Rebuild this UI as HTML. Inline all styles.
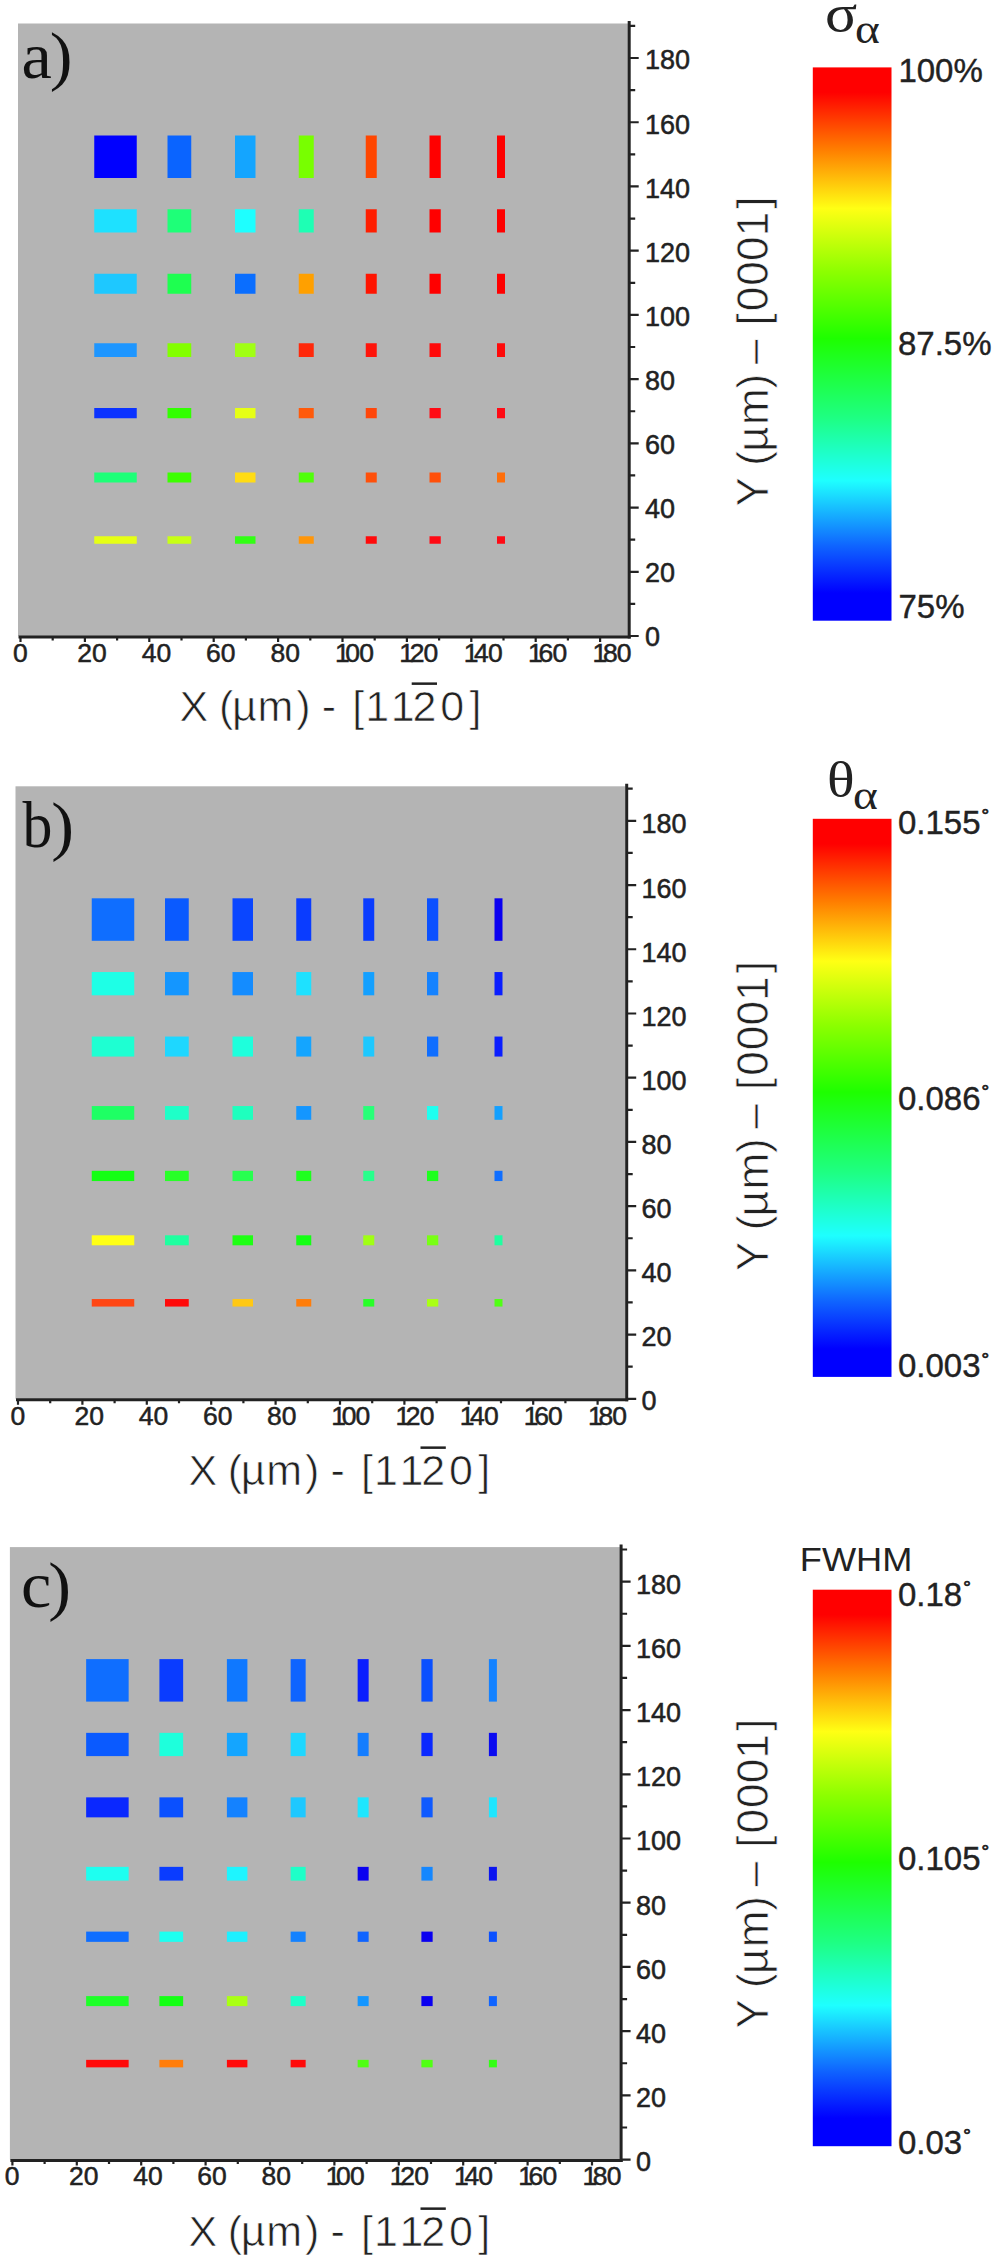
<!DOCTYPE html>
<html lang="en"><head><meta charset="utf-8"><title>Figure</title>
<style>html,body{margin:0;padding:0;background:#fff}svg{display:block}</style>
</head><body>
<svg width="1000" height="2266" viewBox="0 0 1000 2266">
<defs><linearGradient id="jet" x1="0" y1="0" x2="0" y2="1">
<stop offset="0" stop-color="#ff0000"/>
<stop offset="0.045" stop-color="#ff0000"/>
<stop offset="0.148" stop-color="#ff7d00"/>
<stop offset="0.255" stop-color="#ffff14"/>
<stop offset="0.37" stop-color="#8cff00"/>
<stop offset="0.49" stop-color="#1eff00"/>
<stop offset="0.633" stop-color="#1eff82"/>
<stop offset="0.747" stop-color="#1effff"/>
<stop offset="0.865" stop-color="#0f64ff"/>
<stop offset="0.95" stop-color="#0000ff"/>
<stop offset="1" stop-color="#0000ff"/>
</linearGradient></defs>
<rect width="1000" height="2266" fill="#fff"/>
<g transform="translate(0,0)">
<rect x="18" y="23.5" width="610" height="612.5" fill="#b4b4b4"/>
<rect x="94.25" y="135.5" width="42.5" height="42.5" fill="#0000ff"/>
<rect x="167.5" y="135.5" width="23.75" height="42.5" fill="#0a64ff"/>
<rect x="235" y="135.5" width="20.5" height="42.5" fill="#14a5ff"/>
<rect x="298.75" y="135.5" width="15" height="42.5" fill="#78ff00"/>
<rect x="365.75" y="135.5" width="11" height="42.5" fill="#ff4600"/>
<rect x="429.5" y="135.5" width="11.25" height="42.5" fill="#ff0000"/>
<rect x="497" y="135.5" width="8" height="42.5" fill="#ff0000"/>
<rect x="94.25" y="209.25" width="42.5" height="23.25" fill="#1ee1ff"/>
<rect x="167.5" y="209.25" width="23.75" height="23.25" fill="#1eff78"/>
<rect x="235" y="209.25" width="20.5" height="23.25" fill="#1effff"/>
<rect x="298.75" y="209.25" width="15" height="23.25" fill="#1effb4"/>
<rect x="365.75" y="209.25" width="11" height="23.25" fill="#ff1e00"/>
<rect x="429.5" y="209.25" width="11.25" height="23.25" fill="#ff0000"/>
<rect x="497" y="209.25" width="8" height="23.25" fill="#ff0000"/>
<rect x="94.25" y="273.75" width="42.5" height="20" fill="#1ec8ff"/>
<rect x="167.5" y="273.75" width="23.75" height="20" fill="#1eff50"/>
<rect x="235" y="273.75" width="20.5" height="20" fill="#0a6eff"/>
<rect x="298.75" y="273.75" width="15" height="20" fill="#ffa000"/>
<rect x="365.75" y="273.75" width="11" height="20" fill="#ff1400"/>
<rect x="429.5" y="273.75" width="11.25" height="20" fill="#ff0000"/>
<rect x="497" y="273.75" width="8" height="20" fill="#ff0000"/>
<rect x="94.25" y="343.25" width="42.5" height="13.75" fill="#1e96ff"/>
<rect x="167.5" y="343.25" width="23.75" height="13.75" fill="#82ff00"/>
<rect x="235" y="343.25" width="20.5" height="13.75" fill="#a0ff14"/>
<rect x="298.75" y="343.25" width="15" height="13.75" fill="#ff280a"/>
<rect x="365.75" y="343.25" width="11" height="13.75" fill="#ff140a"/>
<rect x="429.5" y="343.25" width="11.25" height="13.75" fill="#ff0a0a"/>
<rect x="497" y="343.25" width="8" height="13.75" fill="#ff0a0a"/>
<rect x="94.25" y="408" width="42.5" height="10.25" fill="#0a32ff"/>
<rect x="167.5" y="408" width="23.75" height="10.25" fill="#32ff00"/>
<rect x="235" y="408" width="20.5" height="10.25" fill="#e6ff14"/>
<rect x="298.75" y="408" width="15" height="10.25" fill="#ff5a0a"/>
<rect x="365.75" y="408" width="11" height="10.25" fill="#ff460a"/>
<rect x="429.5" y="408" width="11.25" height="10.25" fill="#ff0a14"/>
<rect x="497" y="408" width="8" height="10.25" fill="#ff0a14"/>
<rect x="94.25" y="472.5" width="42.5" height="10" fill="#1eff78"/>
<rect x="167.5" y="472.5" width="23.75" height="10" fill="#3cff00"/>
<rect x="235" y="472.5" width="20.5" height="10" fill="#ffdc14"/>
<rect x="298.75" y="472.5" width="15" height="10" fill="#50ff0a"/>
<rect x="365.75" y="472.5" width="11" height="10" fill="#ff500a"/>
<rect x="429.5" y="472.5" width="11.25" height="10" fill="#ff500a"/>
<rect x="497" y="472.5" width="8" height="10" fill="#ff6e0a"/>
<rect x="94.25" y="536.25" width="42.5" height="7.5" fill="#e6ff14"/>
<rect x="167.5" y="536.25" width="23.75" height="7.5" fill="#c8ff14"/>
<rect x="235" y="536.25" width="20.5" height="7.5" fill="#32ff14"/>
<rect x="298.75" y="536.25" width="15" height="7.5" fill="#ff960a"/>
<rect x="365.75" y="536.25" width="11" height="7.5" fill="#ff0a0a"/>
<rect x="429.5" y="536.25" width="11.25" height="7.5" fill="#ff0a14"/>
<rect x="497" y="536.25" width="8" height="7.5" fill="#ff0a14"/>
<g stroke="#222" stroke-width="3" fill="none">
<path d="M18.5 636.9H630.7"/>
<path d="M629.2 21V638.4"/>
</g>
<g stroke="#222" stroke-width="2.2" fill="none">
<path d="M20.5 636.9v5.0M52.7 636.9v3.5M84.9 636.9v5.0M117.1 636.9v3.5M149.3 636.9v5.0M181.5 636.9v3.5M213.7 636.9v5.0M245.9 636.9v3.5M278.1 636.9v5.0M310.3 636.9v3.5M342.5 636.9v5.0M374.7 636.9v3.5M406.9 636.9v5.0M439.1 636.9v3.5M471.3 636.9v5.0M503.5 636.9v3.5M535.7 636.9v5.0M567.9 636.9v3.5M600.1 636.9v5.0M629.2 636h9.5M629.2 603.89h6.0M629.2 571.78h9.5M629.2 539.67h6.0M629.2 507.56h9.5M629.2 475.45h6.0M629.2 443.34h9.5M629.2 411.23h6.0M629.2 379.12h9.5M629.2 347.01h6.0M629.2 314.9h9.5M629.2 282.79h6.0M629.2 250.68h9.5M629.2 218.57h6.0M629.2 186.46h9.5M629.2 154.35h6.0M629.2 122.24h9.5M629.2 90.13h6.0M629.2 58.02h9.5M629.2 25.91h6.0"/>
</g>
<g font-family='"Liberation Sans", Arial, sans-serif' font-size="26.5" fill="#222" stroke="#222" stroke-width="0.5">
<text x="12.9" y="661.8">0</text>
<text x="77.3" y="661.8">20</text>
<text x="141.7" y="661.8">40</text>
<text x="206.1" y="661.8">60</text>
<text x="270.5" y="661.8">80</text>
<text x="334.9 345.3 359.2" y="661.8">100</text>
<text x="399.3 409.7 423.6" y="661.8">120</text>
<text x="463.7 474.1 488" y="661.8">140</text>
<text x="528.1 538.5 552.4" y="661.8">160</text>
<text x="592.5 602.9 616.8" y="661.8">180</text>
</g>
<g font-family='"Liberation Sans", Arial, sans-serif' font-size="27" fill="#222" stroke="#222" stroke-width="0.5">
<text x="645" y="646">0</text>
<text x="645" y="581.94">20</text>
<text x="645" y="517.88">40</text>
<text x="645" y="453.82">60</text>
<text x="645" y="389.76">80</text>
<text x="645" y="325.7">100</text>
<text x="645" y="261.64">120</text>
<text x="645" y="197.58">140</text>
<text x="645" y="133.52">160</text>
<text x="645" y="69.46">180</text>
</g>
<g font-family='"Liberation Serif", "Times New Roman", serif' font-size="65" fill="#111">
<text transform="translate(21.5,78) scale(1.05,1)">a</text>
<text transform="translate(49.7,77.5) scale(1.05,1)">)</text>
</g>
</g>
<g transform="translate(0,0)" font-family='"Liberation Sans", Arial, sans-serif' font-size="43" fill="#222" stroke="#fff" stroke-width="0.7">
<text y="721" x="179.6 207 219 232 257.5 296.3">X (µm)</text>
<text y="721" x="321.8">-</text>
<text y="721" x="352.3 365.2 390.7 412.4 440.2 469.5">[1120]</text>
<rect x="411.7" y="682.4" width="25.3" height="2.5" stroke="none"/>
</g>
<g transform="translate(768.4,504.8) rotate(-90)" font-family='"Liberation Sans", Arial, sans-serif' font-size="44" fill="#222" stroke="#fff" stroke-width="0.7">
<text y="0" x="-1.6">Y</text>
<text y="0" x="39 53 79.7 116.3">(µm)</text>
<text y="0" x="140.8">–</text>
<text y="0" x="179.3 193.6 219 243.8 268.6 296.1">[0001]</text>
</g>
<g transform="translate(-2.5,762.8)">
<rect x="18" y="23.5" width="610" height="612.5" fill="#b4b4b4"/>
<rect x="94.25" y="135.5" width="42.5" height="42.5" fill="#0f6eff"/>
<rect x="167.5" y="135.5" width="23.75" height="42.5" fill="#0a5aff"/>
<rect x="235" y="135.5" width="20.5" height="42.5" fill="#0a46ff"/>
<rect x="298.75" y="135.5" width="15" height="42.5" fill="#0a3cff"/>
<rect x="365.75" y="135.5" width="11" height="42.5" fill="#0a3cff"/>
<rect x="429.5" y="135.5" width="11.25" height="42.5" fill="#0a50ff"/>
<rect x="497" y="135.5" width="8" height="42.5" fill="#0a00f0"/>
<rect x="94.25" y="209.25" width="42.5" height="23.25" fill="#1effe6"/>
<rect x="167.5" y="209.25" width="23.75" height="23.25" fill="#1496ff"/>
<rect x="235" y="209.25" width="20.5" height="23.25" fill="#148cff"/>
<rect x="298.75" y="209.25" width="15" height="23.25" fill="#1ee1ff"/>
<rect x="365.75" y="209.25" width="11" height="23.25" fill="#14a0ff"/>
<rect x="429.5" y="209.25" width="11.25" height="23.25" fill="#1482ff"/>
<rect x="497" y="209.25" width="8" height="23.25" fill="#0a1eff"/>
<rect x="94.25" y="273.75" width="42.5" height="20" fill="#1effd2"/>
<rect x="167.5" y="273.75" width="23.75" height="20" fill="#1ed7ff"/>
<rect x="235" y="273.75" width="20.5" height="20" fill="#1effdc"/>
<rect x="298.75" y="273.75" width="15" height="20" fill="#14a5ff"/>
<rect x="365.75" y="273.75" width="11" height="20" fill="#1ec8ff"/>
<rect x="429.5" y="273.75" width="11.25" height="20" fill="#0f6eff"/>
<rect x="497" y="273.75" width="8" height="20" fill="#0a1eff"/>
<rect x="94.25" y="343.25" width="42.5" height="13.75" fill="#1eff64"/>
<rect x="167.5" y="343.25" width="23.75" height="13.75" fill="#1effc8"/>
<rect x="235" y="343.25" width="20.5" height="13.75" fill="#1effbe"/>
<rect x="298.75" y="343.25" width="15" height="13.75" fill="#1496ff"/>
<rect x="365.75" y="343.25" width="11" height="13.75" fill="#28ff78"/>
<rect x="429.5" y="343.25" width="11.25" height="13.75" fill="#1efff0"/>
<rect x="497" y="343.25" width="8" height="13.75" fill="#14a0ff"/>
<rect x="94.25" y="408" width="42.5" height="10.25" fill="#14ff14"/>
<rect x="167.5" y="408" width="23.75" height="10.25" fill="#28ff28"/>
<rect x="235" y="408" width="20.5" height="10.25" fill="#28ff50"/>
<rect x="298.75" y="408" width="15" height="10.25" fill="#1eff1e"/>
<rect x="365.75" y="408" width="11" height="10.25" fill="#28ff8c"/>
<rect x="429.5" y="408" width="11.25" height="10.25" fill="#1eff1e"/>
<rect x="497" y="408" width="8" height="10.25" fill="#0f6eff"/>
<rect x="94.25" y="472.5" width="42.5" height="10" fill="#ffff14"/>
<rect x="167.5" y="472.5" width="23.75" height="10" fill="#1effa0"/>
<rect x="235" y="472.5" width="20.5" height="10" fill="#1eff14"/>
<rect x="298.75" y="472.5" width="15" height="10" fill="#14ff14"/>
<rect x="365.75" y="472.5" width="11" height="10" fill="#a0ff14"/>
<rect x="429.5" y="472.5" width="11.25" height="10" fill="#78ff14"/>
<rect x="497" y="472.5" width="8" height="10" fill="#1effa0"/>
<rect x="94.25" y="536.25" width="42.5" height="7.5" fill="#ff4614"/>
<rect x="167.5" y="536.25" width="23.75" height="7.5" fill="#ff0a0a"/>
<rect x="235" y="536.25" width="20.5" height="7.5" fill="#ffc814"/>
<rect x="298.75" y="536.25" width="15" height="7.5" fill="#ff7d0a"/>
<rect x="365.75" y="536.25" width="11" height="7.5" fill="#28ff28"/>
<rect x="429.5" y="536.25" width="11.25" height="7.5" fill="#aaff14"/>
<rect x="497" y="536.25" width="8" height="7.5" fill="#50ff14"/>
<g stroke="#222" stroke-width="3" fill="none">
<path d="M18.5 636.9H630.7"/>
<path d="M629.2 21V638.4"/>
</g>
<g stroke="#222" stroke-width="2.2" fill="none">
<path d="M20.5 636.9v5.0M52.7 636.9v3.5M84.9 636.9v5.0M117.1 636.9v3.5M149.3 636.9v5.0M181.5 636.9v3.5M213.7 636.9v5.0M245.9 636.9v3.5M278.1 636.9v5.0M310.3 636.9v3.5M342.5 636.9v5.0M374.7 636.9v3.5M406.9 636.9v5.0M439.1 636.9v3.5M471.3 636.9v5.0M503.5 636.9v3.5M535.7 636.9v5.0M567.9 636.9v3.5M600.1 636.9v5.0M629.2 636h9.5M629.2 603.89h6.0M629.2 571.78h9.5M629.2 539.67h6.0M629.2 507.56h9.5M629.2 475.45h6.0M629.2 443.34h9.5M629.2 411.23h6.0M629.2 379.12h9.5M629.2 347.01h6.0M629.2 314.9h9.5M629.2 282.79h6.0M629.2 250.68h9.5M629.2 218.57h6.0M629.2 186.46h9.5M629.2 154.35h6.0M629.2 122.24h9.5M629.2 90.13h6.0M629.2 58.02h9.5M629.2 25.91h6.0"/>
</g>
<g font-family='"Liberation Sans", Arial, sans-serif' font-size="26.5" fill="#222" stroke="#222" stroke-width="0.5">
<text x="12.9" y="661.8">0</text>
<text x="77.08" y="661.8">20</text>
<text x="141.26" y="661.8">40</text>
<text x="205.43" y="661.8">60</text>
<text x="269.61" y="661.8">80</text>
<text x="333.79 344.19 358.09" y="661.8">100</text>
<text x="397.97 408.37 422.27" y="661.8">120</text>
<text x="462.14 472.54 486.44" y="661.8">140</text>
<text x="526.32 536.72 550.62" y="661.8">160</text>
<text x="590.5 600.9 614.8" y="661.8">180</text>
</g>
<g font-family='"Liberation Sans", Arial, sans-serif' font-size="27" fill="#222" stroke="#222" stroke-width="0.5">
<text x="644" y="647.2">0</text>
<text x="644" y="583.14">20</text>
<text x="644" y="519.08">40</text>
<text x="644" y="455.02">60</text>
<text x="644" y="390.96">80</text>
<text x="644" y="326.9">100</text>
<text x="644" y="262.84">120</text>
<text x="644" y="198.78">140</text>
<text x="644" y="134.72">160</text>
<text x="644" y="70.66">180</text>
</g>
<g font-family='"Liberation Serif", "Times New Roman", serif' font-size="65" fill="#111">
<text transform="translate(25.1,83.7) scale(0.92,1)">b</text>
<text transform="translate(53.7,84.7) scale(1.05,1)">)</text>
</g>
</g>
<g transform="translate(8.8,764)" font-family='"Liberation Sans", Arial, sans-serif' font-size="43" fill="#222" stroke="#fff" stroke-width="0.7">
<text y="721" x="179.6 207 219 232 257.5 296.3">X (µm)</text>
<text y="721" x="321.8">-</text>
<text y="721" x="352.3 365.2 390.7 412.4 440.2 469.5">[1120]</text>
<rect x="411.7" y="682.4" width="25.3" height="2.5" stroke="none"/>
</g>
<g transform="translate(768.4,1269.3) rotate(-90)" font-family='"Liberation Sans", Arial, sans-serif' font-size="44" fill="#222" stroke="#fff" stroke-width="0.7">
<text y="0" x="-1.6">Y</text>
<text y="0" x="39 53 79.7 116.3">(µm)</text>
<text y="0" x="140.8">–</text>
<text y="0" x="179.3 193.6 219 243.8 268.6 296.1">[0001]</text>
</g>
<g transform="translate(-8.1,1523.6)">
<rect x="18" y="23.5" width="610" height="612.5" fill="#b4b4b4"/>
<rect x="94.25" y="135.5" width="42.5" height="42.5" fill="#0f6eff"/>
<rect x="167.5" y="135.5" width="23.75" height="42.5" fill="#0a3cff"/>
<rect x="235" y="135.5" width="20.5" height="42.5" fill="#0f78ff"/>
<rect x="298.75" y="135.5" width="15" height="42.5" fill="#0f64ff"/>
<rect x="365.75" y="135.5" width="11" height="42.5" fill="#0a1eff"/>
<rect x="429.5" y="135.5" width="11.25" height="42.5" fill="#0a50ff"/>
<rect x="497" y="135.5" width="8" height="42.5" fill="#1482ff"/>
<rect x="94.25" y="209.25" width="42.5" height="23.25" fill="#0a5aff"/>
<rect x="167.5" y="209.25" width="23.75" height="23.25" fill="#1effdc"/>
<rect x="235" y="209.25" width="20.5" height="23.25" fill="#14a5ff"/>
<rect x="298.75" y="209.25" width="15" height="23.25" fill="#1ed7ff"/>
<rect x="365.75" y="209.25" width="11" height="23.25" fill="#147dff"/>
<rect x="429.5" y="209.25" width="11.25" height="23.25" fill="#0a28ff"/>
<rect x="497" y="209.25" width="8" height="23.25" fill="#0a0af0"/>
<rect x="94.25" y="273.75" width="42.5" height="20" fill="#0a28ff"/>
<rect x="167.5" y="273.75" width="23.75" height="20" fill="#0a50ff"/>
<rect x="235" y="273.75" width="20.5" height="20" fill="#1482ff"/>
<rect x="298.75" y="273.75" width="15" height="20" fill="#1ec8ff"/>
<rect x="365.75" y="273.75" width="11" height="20" fill="#1ee6ff"/>
<rect x="429.5" y="273.75" width="11.25" height="20" fill="#0f5aff"/>
<rect x="497" y="273.75" width="8" height="20" fill="#1ee6ff"/>
<rect x="94.25" y="343.25" width="42.5" height="13.75" fill="#1efff0"/>
<rect x="167.5" y="343.25" width="23.75" height="13.75" fill="#0a3cff"/>
<rect x="235" y="343.25" width="20.5" height="13.75" fill="#1ef5ff"/>
<rect x="298.75" y="343.25" width="15" height="13.75" fill="#1effc8"/>
<rect x="365.75" y="343.25" width="11" height="13.75" fill="#0a00f0"/>
<rect x="429.5" y="343.25" width="11.25" height="13.75" fill="#1487ff"/>
<rect x="497" y="343.25" width="8" height="13.75" fill="#0a14f0"/>
<rect x="94.25" y="408" width="42.5" height="10.25" fill="#0f6eff"/>
<rect x="167.5" y="408" width="23.75" height="10.25" fill="#1efff0"/>
<rect x="235" y="408" width="20.5" height="10.25" fill="#1ef0ff"/>
<rect x="298.75" y="408" width="15" height="10.25" fill="#1482ff"/>
<rect x="365.75" y="408" width="11" height="10.25" fill="#0f64ff"/>
<rect x="429.5" y="408" width="11.25" height="10.25" fill="#0a00f0"/>
<rect x="497" y="408" width="8" height="10.25" fill="#0a50ff"/>
<rect x="94.25" y="472.5" width="42.5" height="10" fill="#1eff28"/>
<rect x="167.5" y="472.5" width="23.75" height="10" fill="#14ff14"/>
<rect x="235" y="472.5" width="20.5" height="10" fill="#aaff14"/>
<rect x="298.75" y="472.5" width="15" height="10" fill="#1effc8"/>
<rect x="365.75" y="472.5" width="11" height="10" fill="#1496ff"/>
<rect x="429.5" y="472.5" width="11.25" height="10" fill="#0a00f0"/>
<rect x="497" y="472.5" width="8" height="10" fill="#0f64ff"/>
<rect x="94.25" y="536.25" width="42.5" height="7.5" fill="#ff0a0a"/>
<rect x="167.5" y="536.25" width="23.75" height="7.5" fill="#ff7d0a"/>
<rect x="235" y="536.25" width="20.5" height="7.5" fill="#ff0a0a"/>
<rect x="298.75" y="536.25" width="15" height="7.5" fill="#ff0a0a"/>
<rect x="365.75" y="536.25" width="11" height="7.5" fill="#50ff14"/>
<rect x="429.5" y="536.25" width="11.25" height="7.5" fill="#50ff14"/>
<rect x="497" y="536.25" width="8" height="7.5" fill="#32ff14"/>
<g stroke="#222" stroke-width="3" fill="none">
<path d="M18.5 636.9H630.7"/>
<path d="M629.2 21V638.4"/>
</g>
<g stroke="#222" stroke-width="2.2" fill="none">
<path d="M20.5 636.9v5.0M52.7 636.9v3.5M84.9 636.9v5.0M117.1 636.9v3.5M149.3 636.9v5.0M181.5 636.9v3.5M213.7 636.9v5.0M245.9 636.9v3.5M278.1 636.9v5.0M310.3 636.9v3.5M342.5 636.9v5.0M374.7 636.9v3.5M406.9 636.9v5.0M439.1 636.9v3.5M471.3 636.9v5.0M503.5 636.9v3.5M535.7 636.9v5.0M567.9 636.9v3.5M600.1 636.9v5.0M629.2 636h9.5M629.2 603.89h6.0M629.2 571.78h9.5M629.2 539.67h6.0M629.2 507.56h9.5M629.2 475.45h6.0M629.2 443.34h9.5M629.2 411.23h6.0M629.2 379.12h9.5M629.2 347.01h6.0M629.2 314.9h9.5M629.2 282.79h6.0M629.2 250.68h9.5M629.2 218.57h6.0M629.2 186.46h9.5M629.2 154.35h6.0M629.2 122.24h9.5M629.2 90.13h6.0M629.2 58.02h9.5M629.2 25.91h6.0"/>
</g>
<g font-family='"Liberation Sans", Arial, sans-serif' font-size="26.5" fill="#222" stroke="#222" stroke-width="0.5">
<text x="12.9" y="661.8">0</text>
<text x="77.08" y="661.8">20</text>
<text x="141.26" y="661.8">40</text>
<text x="205.43" y="661.8">60</text>
<text x="269.61" y="661.8">80</text>
<text x="333.79 344.19 358.09" y="661.8">100</text>
<text x="397.97 408.37 422.27" y="661.8">120</text>
<text x="462.14 472.54 486.44" y="661.8">140</text>
<text x="526.32 536.72 550.62" y="661.8">160</text>
<text x="590.5 600.9 614.8" y="661.8">180</text>
</g>
<g font-family='"Liberation Sans", Arial, sans-serif' font-size="27" fill="#222" stroke="#222" stroke-width="0.5">
<text x="644.2" y="647.2">0</text>
<text x="644.2" y="583.14">20</text>
<text x="644.2" y="519.08">40</text>
<text x="644.2" y="455.02">60</text>
<text x="644.2" y="390.96">80</text>
<text x="644.2" y="326.9">100</text>
<text x="644.2" y="262.84">120</text>
<text x="644.2" y="198.78">140</text>
<text x="644.2" y="134.72">160</text>
<text x="644.2" y="70.66">180</text>
</g>
<g font-family='"Liberation Serif", "Times New Roman", serif' font-size="65" fill="#111">
<text transform="translate(29.1,82.9) scale(1.05,1)">c</text>
<text transform="translate(56.3,83.9) scale(1.05,1)">)</text>
</g>
</g>
<g transform="translate(8.8,1525)" font-family='"Liberation Sans", Arial, sans-serif' font-size="43" fill="#222" stroke="#fff" stroke-width="0.7">
<text y="721" x="179.6 207 219 232 257.5 296.3">X (µm)</text>
<text y="721" x="321.8">-</text>
<text y="721" x="352.3 365.2 390.7 412.4 440.2 469.5">[1120]</text>
<rect x="411.7" y="682.4" width="25.3" height="2.5" stroke="none"/>
</g>
<g transform="translate(768.4,2027) rotate(-90)" font-family='"Liberation Sans", Arial, sans-serif' font-size="44" fill="#222" stroke="#fff" stroke-width="0.7">
<text y="0" x="-1.6">Y</text>
<text y="0" x="39 53 79.7 116.3">(µm)</text>
<text y="0" x="140.8">–</text>
<text y="0" x="179.3 193.6 219 243.8 268.6 296.1">[0001]</text>
</g>
<rect x="812.8" y="67.4" width="78.7" height="553.3" fill="url(#jet)"/>
<rect x="812.8" y="818.8" width="78.7" height="558.1" fill="url(#jet)"/>
<rect x="812.8" y="1589.7" width="78.7" height="556.5" fill="url(#jet)"/>
<g font-family='"Liberation Sans", Arial, sans-serif' font-size="33" fill="#222" stroke="#222" stroke-width="0.4">
<text x="898.4" y="81.7">100%</text>
<text x="898" y="354.5">87.5%</text>
<text x="898.5" y="617.5">75%</text>
<text x="898" y="833.5">0.155<tspan font-size="19" dx="1" dy="-11.8" stroke-width="0.8">°</tspan></text>
<text x="898" y="1109.6">0.086<tspan font-size="19" dx="1" dy="-11.8" stroke-width="0.8">°</tspan></text>
<text x="898" y="1377.4">0.003<tspan font-size="19" dx="1" dy="-11.8" stroke-width="0.8">°</tspan></text>
<text x="898" y="1605.7">0.18<tspan font-size="19" dx="1" dy="-11.8" stroke-width="0.8">°</tspan></text>
<text x="898" y="1870.1">0.105<tspan font-size="19" dx="1" dy="-11.8" stroke-width="0.8">°</tspan></text>
<text x="898" y="2154">0.03<tspan font-size="19" dx="1" dy="-11.8" stroke-width="0.8">°</tspan></text>
</g>
<g font-family='"Liberation Serif", "Times New Roman", serif' fill="#222">
<text transform="translate(825,31) scale(1.15,1)" font-size="52">σ</text>
<text transform="translate(855,42.5) scale(1.13,1)" font-size="42">α</text>
<text transform="translate(827,797.3) scale(1.13,1)" font-size="51">θ</text>
<text transform="translate(853,809) scale(1.13,1)" font-size="42">α</text>
</g>
<text transform="translate(799.8,1571.4) scale(1.065,1)" font-family='"Liberation Sans", Arial, sans-serif' font-size="34" fill="#222">FWHM</text>
</svg></body></html>
